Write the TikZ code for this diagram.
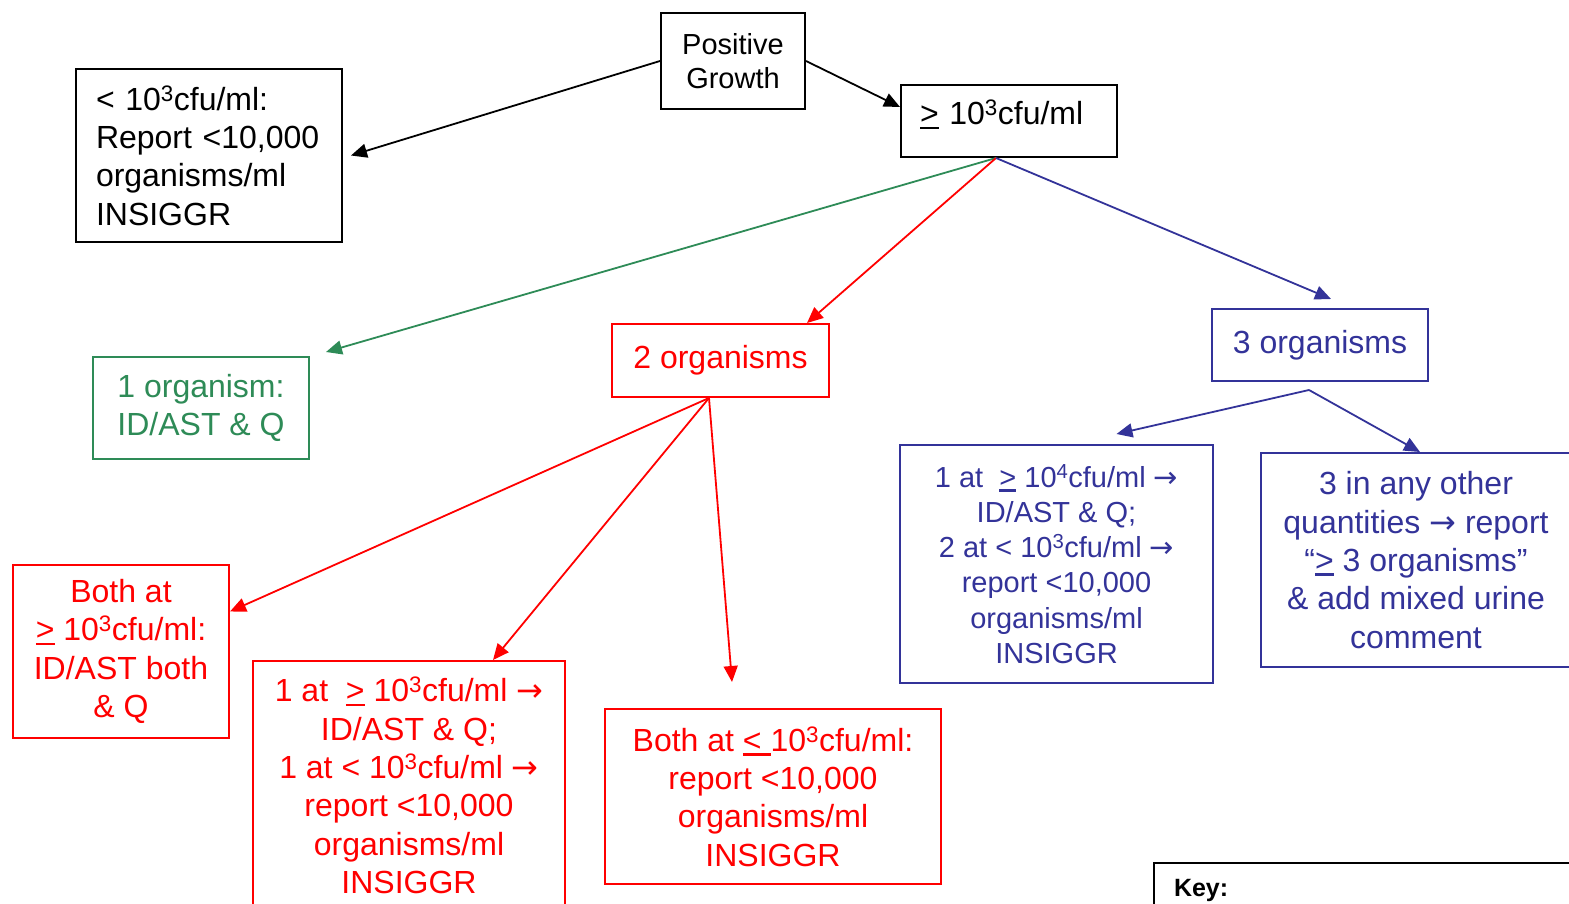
\documentclass[tikz,border=0pt]{standalone}
\usepackage{fontspec}
\setmainfont{Liberation Sans}
\newfontfamily\arrowfont{DejaVu Sans}
\usepackage{tikz}
\usetikzlibrary{arrows.meta,positioning}
\definecolor{orggreen}{RGB}{46,139,87}
\definecolor{orgred}{RGB}{255,0,0}
\definecolor{orgblue}{RGB}{51,51,153}
\newcommand{\thickul}[1]{\sbox0{#1}\rlap{\rule[-4.5pt]{\wd0}{2.6pt}}\usebox0}
\newcommand{\atleast}{\thickul{>}}
\newcommand{\cfu}[1]{10\textsuperscript{#1}cfu/ml}
\newcommand{\giving}{{\arrowfont →}}

\begin{document}
\begin{tikzpicture}[x=1pt,y=-1pt,
    box/.style={draw,line width=2pt,inner sep=0pt,align=center,
        font=\fontsize{32}{38.3}\selectfont},
    smallbox/.style={box,font=\fontsize{29}{35.2}\selectfont},
    arr/.style={line width=1.8pt,-{Triangle[length=16pt,width=14pt]}}]
\useasboundingbox (0,0) rectangle (1569,904);
\clip (0,0) rectangle (1569,904);

% Top level
\node[smallbox,minimum width=144pt,minimum height=96pt,font=\fontsize{29}{34}\selectfont] (pos) at (733,61) {Positive\\Growth};
\node[box,text width=178pt,inner xsep=19pt,align=left,minimum height=72pt,
    text height=23pt,text depth=15pt] (high) at (1009,121) {\atleast{} \cfu{3}};
\node[box,text width=226pt,inner xsep=20pt,minimum height=173pt,align=left] (low) at (209,155.5)
    {< \cfu{3}:\\Report <10,000\\organisms/ml\\INSIGGR};

\draw[arr] (pos.west) -- ([xshift=8pt]low.east);
\draw[arr] (pos.east) -- ([yshift=14pt]high.west);

% Number of organisms
\node[box,orggreen,minimum width=216pt,minimum height=102pt] (one) at (201,408) {1 organism:\\ID/AST \& Q};
\node[box,orgred,minimum width=217pt,minimum height=73pt] (two) at (720.5,360.5) {2 organisms};
\node[box,orgblue,minimum width=216pt,minimum height=72pt] (three) at (1320,345) {3 organisms};

\coordinate (fan) at ([xshift=-13pt]high.south);
\draw[arr,orggreen] (fan) -- ([xshift=16pt,yshift=4pt]one.north east);
\draw[arr,orgred] (fan) -- ([xshift=-23pt]two.north east);
\draw[arr,orgblue] (fan) -- ([xshift=11pt,yshift=9pt]three.north);

% Two organisms
\node[box,orgred,minimum width=216pt,minimum height=173pt] (bothhigh) at (121,651.5)
    {Both at\\\atleast{} \cfu{3}:\\ID/AST both\\\& Q};
\node[box,orgred,minimum width=312pt,minimum height=249pt] (mixed) at (409,785.5)
    {1 at \ \atleast{} \cfu{3} \giving\\ID/AST \& Q;\\1 at < \cfu{3} \giving\\report <10,000\\organisms/ml\\INSIGGR};
\node[box,orgred,minimum width=336pt,minimum height=175pt] (bothlow) at (773,796.5)
    {Both at \thickul{<\ }\cfu{3}:\\report <10,000\\organisms/ml\\INSIGGR};

\coordinate (twofan) at ([xshift=-11.5pt]two.south);
\draw[arr,orgred] (twofan) -- ([yshift=40pt]bothhigh.east);
\draw[arr,orgred] (twofan) -- ([xshift=84pt]mixed.north);
\draw[arr,orgred] (twofan) -- ([xshift=-41pt,yshift=26pt]bothlow.north);

% Three organisms
\node[smallbox,orgblue,minimum width=313pt,minimum height=238pt] (onehigh) at (1056.5,564)
    {1 at \ \atleast{} \cfu{4} \giving\\ID/AST \& Q;\\2 at < \cfu{3} \giving\\report <10,000\\organisms/ml\\INSIGGR};
\node[box,orgblue,minimum width=310pt,minimum height=214pt] (anyother) at (1416,560)
    {3 in any other\\quantities \giving{} report\\“\atleast{} 3 organisms”\\\& add mixed urine\\comment};

\coordinate (threefan) at ([xshift=-11pt,yshift=-8pt]three.south);
\draw[arr,orgblue] (threefan) -- ([xshift=60pt,yshift=10pt]onehigh.north);
\draw[arr,orgblue] (threefan) -- ([xshift=4pt]anyother.north);

% Key
\node[draw,line width=2pt,anchor=north west,inner xsep=20pt,text width=420pt,minimum height=54pt,
    align=left,font=\bfseries\fontsize{25}{30}\selectfont] (key) at (1153,862) {Key:};
\end{tikzpicture}
\end{document}
